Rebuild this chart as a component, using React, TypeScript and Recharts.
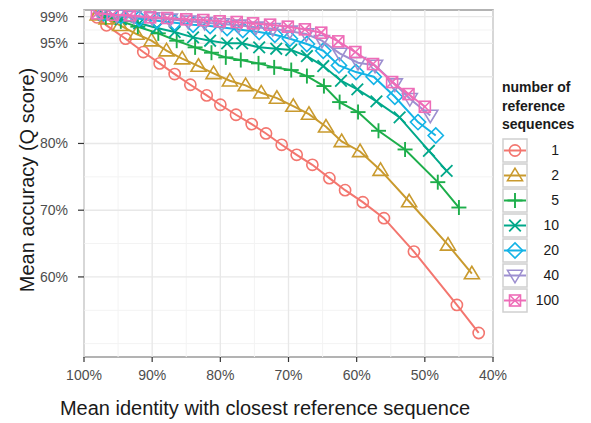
import React from 'react';
import { ScatterChart, Scatter, XAxis, YAxis, ReferenceLine, ReferenceArea } from 'recharts';

document.body.style.margin = '0';

const X_TICKS = [100, 90, 80, 70, 60, 50, 40];
const X_MINOR = [95, 85, 75, 65, 55, 45];
const Y_TICKS = [60, 70, 80, 90, 95, 99];
const Y_MINOR = [97, 85, 75, 65, 55, 50];

const SEQ_COUNTS = ['1', '2', '5', '10', '20', '40', '100'];
const COLORS = ['#F3766F', '#C99A2E', '#1DAE4B', '#00A88A', '#13B3E6', '#9D8FD0', '#EE6DB8'];
const SHAPES = ['circle', 'triangle', 'plus', 'cross', 'diamond', 'triangleDown', 'squareX'];

// identity (x) and Q-score accuracy (y)
const identity1 = [98.1, 96.7, 93.9, 91.3, 88.9, 86.7, 84.4, 82.0, 80.0, 77.7, 75.4, 73.3, 71.0, 68.8, 66.5, 64.0, 61.7, 59.1, 56.0, 51.6, 45.3, 42.1];
const accuracy1 = [98.9, 97.7, 95.7, 93.7, 92.0, 90.4, 88.8, 87.2, 85.8, 84.3, 82.9, 81.5, 79.8, 78.3, 76.8, 74.8, 73.0, 71.2, 68.8, 63.8, 55.8, 51.6];

const identity2 = [98.0, 96.7, 94.7, 92.3, 90.1, 87.9, 85.6, 83.2, 81.0, 78.6, 76.3, 74.0, 71.7, 69.3, 67.0, 64.5, 62.2, 59.5, 56.5, 52.3, 46.6, 43.1];
const accuracy2 = [99.3, 98.7, 97.7, 96.4, 95.4, 93.9, 92.7, 91.6, 90.5, 89.4, 88.7, 87.6, 86.8, 85.6, 84.4, 82.5, 80.3, 78.8, 76.0, 71.3, 64.8, 60.5];

const identity5 = [96.8, 94.6, 92.1, 89.1, 86.4, 83.7, 81.3, 79.2, 77.0, 74.4, 72.1, 69.6, 67.3, 64.8, 62.5, 59.8, 56.8, 52.9, 48.1, 45.0];
const accuracy5 = [98.9, 98.3, 97.5, 96.5, 95.4, 94.4, 93.6, 92.9, 92.5, 92.0, 91.4, 91.0, 90.1, 88.6, 86.2, 84.7, 81.9, 79.1, 74.2, 70.4];

const identity10 = [97.1, 94.6, 91.9, 89.3, 86.7, 84.0, 81.5, 79.0, 76.8, 74.3, 71.8, 69.6, 67.3, 64.9, 62.3, 59.9, 57.1, 53.7, 49.4, 46.8];
const accuracy10 = [99.3, 98.6, 98.0, 97.3, 96.7, 95.9, 95.4, 95.0, 95.0, 94.4, 94.2, 94.0, 93.1, 91.6, 89.4, 88.1, 86.3, 83.9, 78.9, 75.9];

const identity20 = [97.1, 94.6, 91.9, 89.3, 86.7, 84.0, 81.5, 79.0, 76.7, 74.3, 72.0, 69.8, 67.3, 64.9, 62.6, 60.1, 57.5, 54.4, 51.0, 48.4];
const accuracy20 = [99.5, 99.1, 98.7, 98.4, 98.1, 97.8, 97.6, 97.3, 97.0, 96.7, 96.3, 95.7, 94.9, 93.9, 91.7, 90.7, 90.0, 87.0, 83.2, 81.2];

const identity40 = [97.7, 95.2, 92.7, 90.0, 87.4, 84.7, 82.3, 79.8, 77.3, 74.8, 72.3, 69.8, 67.4, 65.1, 62.5, 59.8, 57.3, 54.4, 52.2, 49.2];
const accuracy40 = [99.5, 99.2, 99.0, 98.8, 98.6, 98.3, 98.1, 97.9, 97.7, 97.4, 97.2, 96.8, 96.4, 95.4, 93.5, 92.1, 91.7, 88.9, 86.7, 84.2];

const identity100 = [98.1, 95.8, 93.3, 90.3, 87.8, 85.0, 82.5, 80.1, 77.6, 75.2, 72.7, 70.1, 67.6, 65.2, 62.7, 60.2, 57.6, 54.8, 52.4, 50.0];
const accuracy100 = [99.5, 99.3, 99.2, 98.9, 98.8, 98.6, 98.5, 98.3, 98.2, 98.0, 97.8, 97.5, 97.1, 96.6, 95.3, 93.7, 91.9, 89.2, 87.4, 85.5];

const IDENTITY = [identity1, identity2, identity5, identity10, identity20, identity40, identity100];
const ACCURACY = [accuracy1, accuracy2, accuracy5, accuracy10, accuracy20, accuracy40, accuracy100];

const series = SEQ_COUNTS.map((name, i) => ({
  name,
  color: COLORS[i],
  shape: SHAPES[i],
  data: IDENTITY[i].map((x, j) => ({ x, y: ACCURACY[i][j] })),
}));

const FONT = '"Liberation Sans", Arial, sans-serif';

const Marker = ({ cx, cy, kind, color }: { cx: number; cy: number; kind: string; color: string }) => {
  const sw = 1.6;
  switch (kind) {
    case 'circle':
      return <circle cx={cx} cy={cy} r={5.6} fill="none" stroke={color} strokeWidth={sw} />;
    case 'triangle':
      return (
        <polygon
          points={`${cx},${cy - 7.3} ${cx - 7.5},${cy + 5.2} ${cx + 7.5},${cy + 5.2}`}
          fill="none" stroke={color} strokeWidth={sw} strokeLinejoin="miter"
        />
      );
    case 'triangleDown':
      return (
        <polygon
          points={`${cx - 7.5},${cy - 5.2} ${cx + 7.5},${cy - 5.2} ${cx},${cy + 7.3}`}
          fill="none" stroke={color} strokeWidth={sw}
        />
      );
    case 'plus':
      return (
        <g stroke={color} strokeWidth={1.9}>
          <line x1={cx - 7.5} y1={cy} x2={cx + 7.5} y2={cy} />
          <line x1={cx} y1={cy - 7.5} x2={cx} y2={cy + 7.5} />
        </g>
      );
    case 'cross':
      return (
        <g stroke={color} strokeWidth={1.8}>
          <line x1={cx - 5.8} y1={cy - 5.8} x2={cx + 5.8} y2={cy + 5.8} />
          <line x1={cx - 5.8} y1={cy + 5.8} x2={cx + 5.8} y2={cy - 5.8} />
        </g>
      );
    case 'diamond':
      return (
        <polygon
          points={`${cx},${cy - 7.6} ${cx + 7.6},${cy} ${cx},${cy + 7.6} ${cx - 7.6},${cy}`}
          fill="none" stroke={color} strokeWidth={sw}
        />
      );
    case 'squareX':
      return (
        <g stroke={color} strokeWidth={sw} fill="none">
          <rect x={cx - 5.5} y={cy - 5.5} width={11} height={11} />
          <line x1={cx - 5.5} y1={cy - 5.5} x2={cx + 5.5} y2={cy + 5.5} />
          <line x1={cx - 5.5} y1={cy + 5.5} x2={cx + 5.5} y2={cy - 5.5} />
        </g>
      );
    default:
      return null;
  }
};

const LegendKey = ({ color, kind }: { color: string; kind: string }) => (
  <svg width={26} height={25} style={{ display: 'block' }}>
    <rect x={1} y={1} width={24} height={23} fill="#fff" stroke="#d0d0d0" strokeWidth={1.5} />
    <line x1={2} y1={12.5} x2={24} y2={12.5} stroke={color} strokeWidth={2} />
    <Marker cx={13} cy={12.5} kind={kind} color={color} />
  </svg>
);

const pct = (v: number) => `${v}%`;

export default function App() {
  return (
    <div style={{ position: 'relative', width: 591, height: 423, background: '#fff', fontFamily: FONT }}>
      <ScatterChart width={591} height={423} margin={{ top: 10, right: 98, bottom: 26, left: 8 }}>
        <XAxis
          dataKey="x"
          type="number"
          domain={[40, 100]}
          reversed
          ticks={X_TICKS}
          tickFormatter={pct}
          axisLine={false}
          tickLine={{ stroke: '#333', strokeWidth: 1.2 }}
          tickSize={5}
          tickMargin={8}
          height={40}
          tick={{ fontSize: 14, fill: '#4d4d4d', fontFamily: FONT }}
          allowDataOverflow
        />
        <YAxis
          dataKey="y"
          type="number"
          domain={[48, 100]}
          ticks={Y_TICKS}
          tickFormatter={pct}
          axisLine={false}
          tickLine={{ stroke: '#333', strokeWidth: 1.2 }}
          tickSize={6}
          tickMargin={10}
          width={76}
          tick={{ fontSize: 14, fill: '#4d4d4d', fontFamily: FONT }}
          allowDataOverflow
        />
        {X_MINOR.map((v) => (
          <ReferenceLine key={`xm${v}`} x={v} stroke="#f3f3f3" strokeWidth={1} />
        ))}
        {Y_MINOR.map((v) => (
          <ReferenceLine key={`ym${v}`} y={v} stroke="#f3f3f3" strokeWidth={1} />
        ))}
        {X_TICKS.map((v) => (
          <ReferenceLine key={`x${v}`} x={v} stroke="#e8e8e8" strokeWidth={1.4} />
        ))}
        {Y_TICKS.map((v) => (
          <ReferenceLine key={`y${v}`} y={v} stroke="#e8e8e8" strokeWidth={1.4} />
        ))}
        {series.map((s) => (
          <Scatter
            key={s.name}
            name={s.name}
            data={s.data}
            isAnimationActive={false}
            line={{ stroke: s.color, strokeWidth: 2 }}
            lineType="joint"
            shape={(p: any) => <Marker cx={p.cx} cy={p.cy} kind={s.shape} color={s.color} />}
          />
        ))}
        <ReferenceArea x1={40} x2={100} y1={48} y2={100} fill="none" stroke="#9a9a9a" strokeWidth={1.6} ifOverflow="visible" />
      </ScatterChart>

      <div
        style={{
          position: 'absolute', left: 265, top: 397, transform: 'translateX(-50%)',
          fontSize: 20, color: '#1a1a1a', whiteSpace: 'nowrap',
        }}
      >
        Mean identity with closest reference sequence
      </div>
      <div
        style={{
          position: 'absolute', left: 27, top: 180, transform: 'translate(-50%, -50%) rotate(-90deg)',
          fontSize: 20, color: '#1a1a1a', whiteSpace: 'nowrap',
        }}
      >
        Mean accuracy (Q score)
      </div>

      <div style={{ position: 'absolute', left: 502, top: 78 }}>
        <div style={{ fontSize: 14, fontWeight: 'bold', color: '#1a1a1a', lineHeight: '18.5px', marginBottom: 4 }}>
          number of<br />reference<br />sequences
        </div>
        {series.map((s) => (
          <div key={s.name} style={{ display: 'flex', alignItems: 'center', height: 25 }}>
            <LegendKey color={s.color} kind={s.shape} />
            <div style={{ width: 31, textAlign: 'right', fontSize: 14, color: '#1a1a1a' }}>{s.name}</div>
          </div>
        ))}
      </div>
    </div>
  );
}
